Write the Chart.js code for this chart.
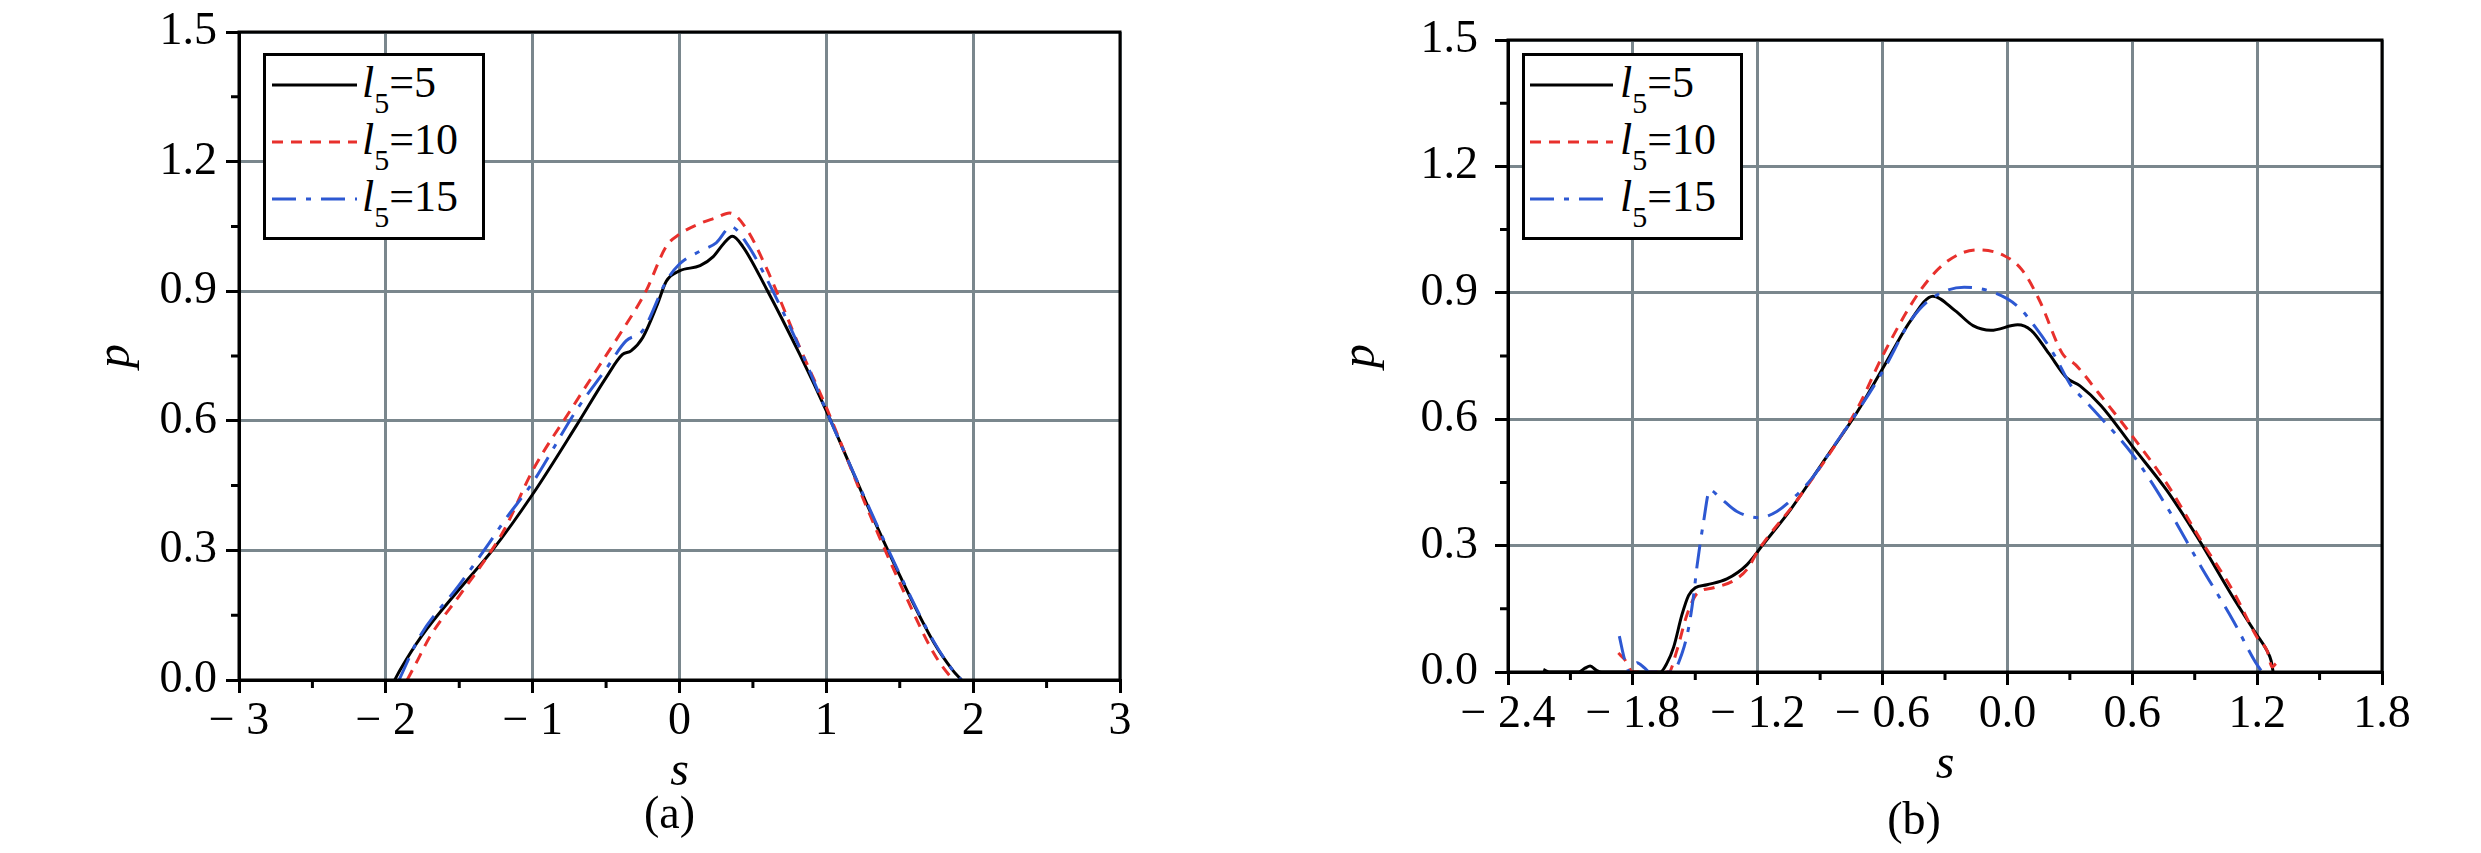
<!DOCTYPE html>
<html>
<head>
<meta charset="utf-8">
<script src="https://cdn.jsdelivr.net/npm/chart.js@4.4.1/dist/chart.umd.min.js"></script>
<style>
  body { margin: 0; background: #fff; }
  #wrap { position: relative; width: 2481px; height: 853px; overflow: hidden; }
  canvas { position: absolute; top: 0; }
  .legend { position: absolute; border: 3px solid #000; background: #fff; box-sizing: border-box;
            font-family: "Liberation Serif", "Times New Roman", serif; color: #000; }
  .legend .row { position: absolute; left: 0; height: 57px; width: 100%; }
  .legend svg { position: absolute; top: 0; }
  .legend .txt { position: absolute; font-size: 44px; line-height: 57px; white-space: nowrap; }
  .legend .txt i { font-style: italic; }
  .legend .txt .sub { font-size: 30px; position: relative; top: 16px; }
</style>
</head>
<body>
<div id="wrap">
  <canvas id="chartA" width="1240" height="853" style="left:0"></canvas>
  <canvas id="chartB" width="1241" height="853" style="left:1240px"></canvas>
  <div id="legendA" class="legend" style="left:263px;top:53px;width:222px;height:187px"></div>
  <div id="legendB" class="legend" style="left:1522px;top:53px;width:221px;height:187px"></div>
</div>
<script>
// series labels: l5 = 5, 10, 15
const seriesNames = ['5', '10', '15'];
const seriesColors = ['#000000', '#e8302c', '#2d58d2'];
const seriesDash = [[], [11, 8], [24, 10, 5, 10]];

// (a)
const sA5 = [-1.94, -1.9, -1.76, -1.5, -1.275, -1.0, -0.7, -0.5, -0.39, -0.33, -0.25, -0.15, -0.09, 0.0, 0.14, 0.23, 0.30, 0.36, 0.43, 0.59, 0.82, 1.0, 1.27, 1.5, 1.73, 1.86, 1.92];
const pA5 = [0, 0.025, 0.1, 0.21, 0.3, 0.43, 0.59, 0.70, 0.753, 0.762, 0.793, 0.87, 0.923, 0.947, 0.959, 0.98, 1.01, 1.027, 1.004, 0.907, 0.753, 0.623, 0.412, 0.242, 0.088, 0.023, 0.0];
const sA10 = [-1.855, -1.80, -1.70, -1.5, -1.28, -1.19, -1.0, -0.73, -0.545, -0.39, -0.23, -0.09, 0.0, 0.14, 0.25, 0.34, 0.455, 0.59, 0.82, 1.0, 1.27, 1.5, 1.73, 1.84, 1.87];
const pA10 = [0, 0.035, 0.1, 0.195, 0.3, 0.35, 0.485, 0.631, 0.728, 0.809, 0.899, 1.004, 1.032, 1.057, 1.07, 1.081, 1.045, 0.955, 0.769, 0.631, 0.404, 0.225, 0.063, 0.01, 0.0];
const sA15 = [-1.91, -1.77, -1.5, -1.3, -1.19, -1.0, -0.705, -0.5, -0.364, -0.25, -0.09, 0.0, 0.136, 0.25, 0.352, 0.455, 0.59, 0.818, 1.0, 1.27, 1.5, 1.73, 1.86, 1.92];
const pA15 = [0, 0.1, 0.22, 0.315, 0.37, 0.457, 0.623, 0.72, 0.785, 0.809, 0.923, 0.963, 0.992, 1.012, 1.049, 1.012, 0.931, 0.769, 0.623, 0.415, 0.245, 0.09, 0.023, 0.0];

// (b)
const sB5 = [-2.23, -2.2, -2.06, -2.03, -2.005, -1.975, -1.95, -1.668, -1.636, -1.604, -1.564, -1.532, -1.5, -1.444, -1.348, -1.251, -1.172, -1.043, -0.893, -0.722, -0.594, -0.465, -0.358, -0.25, -0.165, -0.079, 0.049, 0.114, 0.199, 0.285, 0.349, 0.45, 0.6, 0.766, 0.91, 1.087, 1.192, 1.248, 1.267, 1.277];
const pB5 = [0.006, 0.0, 0.0, 0.009, 0.014, 0.004, 0.0, 0.0, 0.021, 0.059, 0.136, 0.182, 0.2, 0.207, 0.221, 0.255, 0.304, 0.385, 0.493, 0.617, 0.725, 0.834, 0.892, 0.857, 0.822, 0.811, 0.824, 0.811, 0.756, 0.698, 0.679, 0.632, 0.536, 0.431, 0.322, 0.175, 0.093, 0.05, 0.027, 0.0];
const sB10 = [-1.87, -1.84, -1.80, -1.628, -1.588, -1.54, -1.492, -1.412, -1.315, -1.251, -1.193, -1.0, -0.722, -0.594, -0.422, -0.294, -0.144, -0.015, 0.071, 0.156, 0.264, 0.328, 0.435, 0.6, 0.766, 0.927, 1.087, 1.2, 1.248, 1.272, 1.29];
const pB10 = [0.045, 0.03, 0.0, 0.0, 0.052, 0.136, 0.186, 0.2, 0.217, 0.244, 0.292, 0.415, 0.625, 0.756, 0.903, 0.973, 1.002, 0.988, 0.954, 0.88, 0.756, 0.729, 0.664, 0.56, 0.447, 0.315, 0.19, 0.082, 0.05, 0.012, 0.02];
const sB15 = [-1.865, -1.84, -1.815, -1.78, -1.745, -1.72, -1.612, -1.564, -1.532, -1.508, -1.492, -1.461, -1.43, -1.386, -1.3, -1.193, -1.108, -1.022, -0.936, -0.829, -0.722, -0.594, -0.465, -0.358, -0.208, -0.079, 0.049, 0.135, 0.221, 0.306, 0.33, 0.349, 0.444, 0.6, 0.766, 0.927, 1.087, 1.192, 1.224];
const pB15 = [0.085, 0.03, 0.0, 0.022, 0.01, 0.0, 0.0, 0.044, 0.105, 0.182, 0.25, 0.354, 0.432, 0.416, 0.381, 0.366, 0.381, 0.416, 0.462, 0.54, 0.617, 0.718, 0.834, 0.889, 0.913, 0.903, 0.868, 0.818, 0.756, 0.679, 0.665, 0.656, 0.606, 0.517, 0.392, 0.253, 0.12, 0.023, 0.0];

// axes
const xTicksA = [-3, -2, -1, 0, 1, 2, 3];
const xLabelsA = ['\u2212 3', '\u2212 2', '\u2212 1', '0', '1', '2', '3'];
const xMinorA = [-2.5, -1.5, -0.5, 0.5, 1.5, 2.5];
const xTicksB = [-2.4, -1.8, -1.2, -0.6, 0, 0.6, 1.2, 1.8];
const xLabelsB = ['\u2212 2.4', '\u2212 1.8', '\u2212 1.2', '\u2212 0.6', '0.0', '0.6', '1.2', '1.8'];
const xMinorB = [-2.1, -1.5, -0.9, -0.3, 0.3, 0.9, 1.5];
const yTicks = [0, 0.3, 0.6, 0.9, 1.2, 1.5];
const yLabels = ['0.0', '0.3', '0.6', '0.9', '1.2', '1.5'];
const yMinor = [0.15, 0.45, 0.75, 1.05, 1.35];

const FONT = '"Liberation Serif", "Times New Roman", serif';
const GRID = '#7a878d';

const framePlugin = {
  id: 'frame',
  afterDatasetsDraw(chart, args, opts) {
    const { ctx, chartArea: a, scales: { x, y } } = chart;
    ctx.save();
    ctx.strokeStyle = '#000';
    ctx.lineWidth = 3;
    ctx.strokeRect(a.left, a.top, a.right - a.left, a.bottom - a.top);
    ctx.beginPath();
    opts.xMinor.forEach(v => { const px = x.getPixelForValue(v); ctx.moveTo(px, a.bottom); ctx.lineTo(px, a.bottom + 8); });
    opts.yMinor.forEach(v => { const py = y.getPixelForValue(v); ctx.moveTo(a.left, py); ctx.lineTo(a.left - 8, py); });
    ctx.stroke();
    ctx.fillStyle = '#000';
    ctx.font = '46px ' + FONT;
    ctx.textAlign = 'center';
    ctx.textBaseline = 'middle';
    ctx.fillText(opts.caption, (a.left + a.right) / 2 + opts.capDx, opts.capY);
    ctx.restore();
  }
};

function makeDatasets(xs, ys) {
  return xs.map((sArr, i) => ({
    label: seriesNames[i],
    data: sArr.map((s, j) => ({ x: s, y: ys[i][j] })),
    showLine: true,
    borderColor: seriesColors[i],
    borderWidth: 3,
    borderDash: seriesDash[i],
    pointRadius: 0,
    cubicInterpolationMode: 'monotone',
    fill: false
  })).reverse();
}

function makeChart(id, cfg) {
  return new Chart(document.getElementById(id), {
    type: 'scatter',
    data: { datasets: makeDatasets(cfg.xs, cfg.ys) },
    plugins: [framePlugin],
    options: {
      responsive: false,
      animation: false,
      devicePixelRatio: 1,
      layout: { padding: cfg.padding },
      plugins: {
        legend: { display: false },
        tooltip: { enabled: false },
        frame: { xMinor: cfg.xMinor, yMinor: yMinor, caption: cfg.caption, capDx: cfg.capDx, capY: cfg.capY }
      },
      scales: {
        x: {
          type: 'linear',
          min: cfg.xTicks[0],
          max: cfg.xTicks[cfg.xTicks.length - 1],
          afterBuildTicks: s => { s.ticks = cfg.xTicks.map(v => ({ value: v })); },
          afterFit: s => { s.height = cfg.xHeight; },
          ticks: {
            autoSkip: false, maxRotation: 0, padding: cfg.xPad, color: '#000',
            font: { family: FONT, size: 46, lineHeight: 1 },
            callback: (v, i) => cfg.xLabels[i]
          },
          grid: { color: GRID, lineWidth: 3, tickColor: '#000', tickWidth: 3, tickLength: 13 },
          border: { color: '#000', width: 3 },
          title: { display: true, text: 's', color: '#000', font: { family: FONT, size: 48, style: 'italic', lineHeight: 1.2 }, padding: { top: 0, bottom: cfg.sPad } }
        },
        y: {
          type: 'linear',
          min: 0,
          max: 1.5,
          afterBuildTicks: s => { s.ticks = yTicks.map(v => ({ value: v })); },
          afterFit: s => { s.width = cfg.yWidth; },
          ticks: {
            autoSkip: false, padding: cfg.yPad, color: '#000',
            font: { family: FONT, size: 46, lineHeight: 1 },
            callback: (v, i) => yLabels[i]
          },
          grid: { color: GRID, lineWidth: 3, tickColor: '#000', tickWidth: 3, tickLength: 13 },
          border: { color: '#000', width: 3 },
          title: { display: true, text: 'p', color: '#000', font: { family: FONT, size: 48, style: 'italic', lineHeight: 1.2 }, padding: { top: cfg.pPad, bottom: 0 } }
        }
      }
    }
  });
}

function buildLegend(id, lineLeft, lineRight, textLeft) {
  const box = document.getElementById(id);
  box.innerHTML = seriesNames.map((n, i) => {
    const dash = seriesDash[i].length ? seriesDash[i].join(' ') : 'none';
    return `<div class="row" style="top:${-2 + i * 57}px">
      <svg width="${lineRight + 4}" height="57"><line x1="${lineLeft}" y1="31" x2="${lineRight}" y2="31" stroke="${seriesColors[i]}" stroke-width="3" stroke-dasharray="${dash}"/></svg>
      <span class="txt" style="left:${textLeft}px"><i>l</i><span class="sub">5</span>=${n}</span>
    </div>`;
  }).join('');
}

makeChart('chartA', {
  xs: [sA5, sA10, sA15], ys: [pA5, pA10, pA15],
  xTicks: xTicksA, xLabels: xLabelsA, xMinor: xMinorA,
  padding: { left: 0, right: 120, top: 29, bottom: 0 },
  yWidth: 239, xHeight: 173, xPad: 6, yPad: 9, sPad: 52, pPad: 88,
  caption: '(a)', capDx: -10, capY: 816
});

makeChart('chartB', {
  xs: [sB5, sB10, sB15], ys: [pB5, pB10, pB15],
  xTicks: xTicksB, xLabels: xLabelsB, xMinor: xMinorB,
  padding: { left: 0, right: 99, top: 25, bottom: 0 },
  yWidth: 268, xHeight: 181, xPad: 7, yPad: 17, sPad: 59, pPad: 93,
  caption: '(b)', capDx: -31, capY: 822
});

buildLegend('legendA', 6, 91, 96);
buildLegend('legendB', 5, 88, 95);
</script>
</body>
</html>
